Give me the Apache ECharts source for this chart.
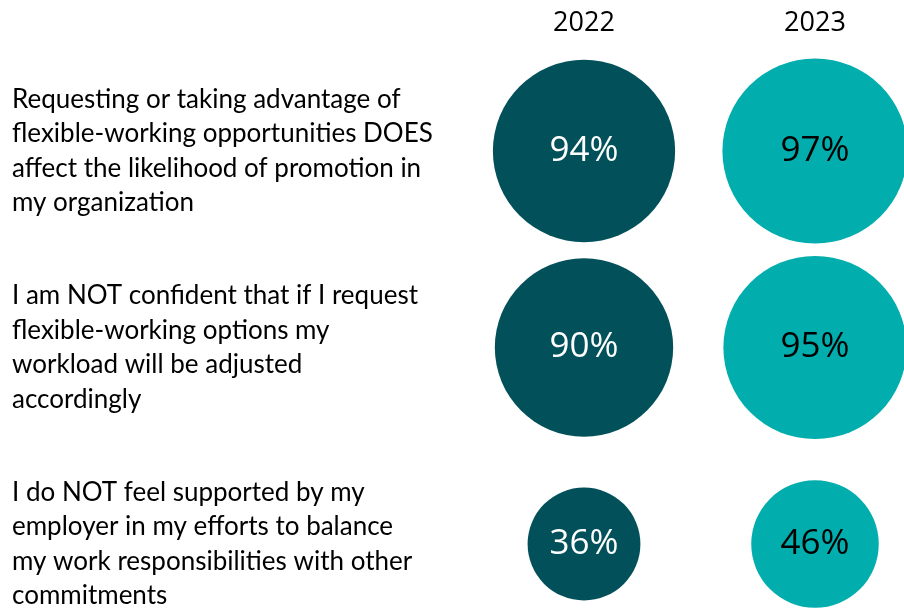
<!DOCTYPE html>
<html>
<head>
<meta charset="utf-8">
<script src="https://cdn.jsdelivr.net/npm/echarts@6/dist/echarts.min.js"></script>
<style>
  html, body { margin: 0; padding: 0; background: #fff; }
  #chart { width: 904px; height: 613px; }
</style>
</head>
<body>
<div id="chart"></div>
<script>
const years = ['2022', '2023'];
const questions = [
  'Requesting or taking advantage of\nflexible-working opportunities DOES\naffect the likelihood of promotion in\nmy organization',
  'I am NOT confident that if I request\nflexible-working options my\nworkload will be adjusted\naccordingly',
  'I do NOT feel supported by my\nemployer in my efforts to balance\nmy work responsibilities with other\ncommitments'
];
const values2022 = [94, 90, 36];
const values2023 = [97, 95, 46];

const chart = echarts.init(document.getElementById('chart'));

function toPoints(year, vals) {
  return vals.map((v, i) => [year, i, v]);
}

const bubble = (name, vals, color, labelColor) => ({
  name: name,
  type: 'scatter',
  data: toPoints(name, vals),
  symbolSize: d => 18.8 * Math.sqrt(d[2]),
  itemStyle: { color: color, opacity: 1 },
  label: {
    show: true,
    position: 'inside',
    formatter: p => p.value[2] + '%',
    color: labelColor,
    fontSize: 35,
    fontFamily: 'Open Sans'
  },
  emphasis: { disabled: true }
});

chart.setOption({
  animation: false,
  grid: { left: 584, right: 89, top: 151, bottom: 66 },
  xAxis: {
    type: 'category',
    position: 'top',
    data: years,
    boundaryGap: false,
    axisLine: { show: false },
    axisTick: { show: false },
    splitLine: { show: false },
    axisLabel: {
      color: '#000',
      fontSize: 27,
      fontFamily: 'Open Sans',
      margin: 114
    }
  },
  yAxis: {
    type: 'category',
    data: questions,
    inverse: true,
    boundaryGap: false,
    axisLine: { show: false },
    axisTick: { show: false },
    splitLine: { show: false },
    axisLabel: {
      align: 'left',
      margin: 572,
      color: '#000',
      fontSize: 26,
      lineHeight: 34.5,
      fontFamily: 'Lato'
    }
  },
  series: [
    bubble('2022', values2022, '#02505a', '#ffffff'),
    bubble('2023', values2023, '#02adad', '#000000')
  ]
});
</script>
</body>
</html>
